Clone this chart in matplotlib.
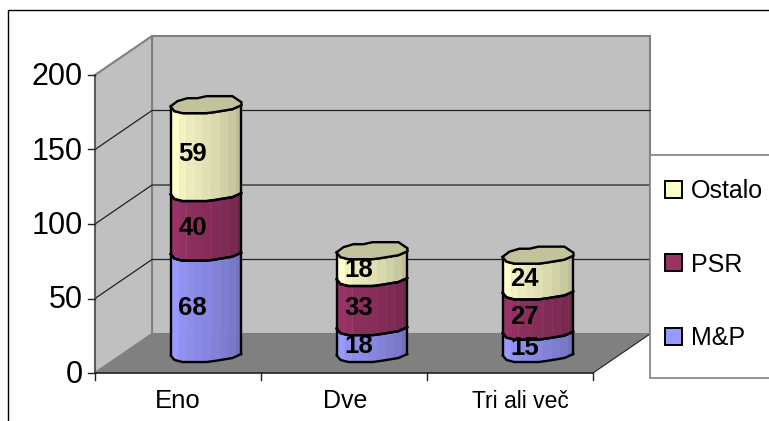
import matplotlib
matplotlib.use("Agg")
import matplotlib.pyplot as plt
import numpy as np
from matplotlib.patches import Patch, Polygon, Rectangle

plt.rcParams["font.family"] = ["Liberation Sans", "DejaVu Sans"]

categories = ["Eno", "Dve", "Tri ali več"]
series_names = ["M&P", "PSR", "Ostalo"]
mp_values = [68, 18, 15]
psr_values = [40, 33, 27]
ostalo_values = [59, 18, 24]
y_ticks = [0, 50, 100, 150, 200]

colors = ["#9999FF", "#993366", "#FFFFCC"]
edge_gray = "#808080"

# scale of the chart in pixels, the axes cover the whole figure
W, H = 769, 421
left_px, bottom_px = 95, 373
cat_px, val_px = 166, 1.49
depth_x = 57 / cat_px
depth_y = 39 / val_px

# rim of a cylinder, x in bar radii and y in rim half heights
rim = np.array([(-1.0, 0.21), (-0.81, -0.41), (-0.53, -0.76), (-0.25, -0.76),
                (0.0, -1.0), (0.72, -1.0), (0.97, -0.29), (0.97, 0.06),
                (0.72, 0.53), (0.22, 0.88), (0.0, 1.0), (-0.67, 1.0), (-0.89, 0.76)])
front_idx = [0, 12, 11, 10, 9, 8, 7]
facets = np.array([-1.0, -0.76, -0.55, -0.33, -0.11, 0.14, 0.39, 0.61, 0.83, 0.97])
shades = [1.0, 0.95, 0.92, 0.9, 0.88, 0.85, 0.82, 0.79, 0.74]
radius_x = 36 / cat_px
radius_y = 8.5 / val_px

# tick label sizes and nudges along the x axis
label_sizes = [18.5, 18, 16.5]
label_shift = [0, 1, 10]


def shade(color, factor):
    return tuple(c * factor for c in matplotlib.colors.to_rgb(color))


def front_arc(xc, yc, xs):
    pts = rim[front_idx]
    return xc + xs * radius_x, yc - np.interp(xs, pts[:, 0], pts[:, 1]) * radius_y


def draw_segment(ax, xc, y0, y1, color):
    for i in range(len(shades)):
        xs = facets[i:i + 2]
        x_a, y_a = front_arc(xc, y0, xs)
        x_b, y_b = front_arc(xc, y1, xs)
        verts = list(zip(x_a, y_a)) + list(zip(x_b[::-1], y_b[::-1]))
        face = shade(color, shades[i])
        ax.add_patch(Polygon(verts, fc=face, ec=face, lw=0.3, zorder=5))
    xs = rim[front_idx][:, 0]
    x_a, y_a = front_arc(xc, y0, xs)
    x_b, y_b = front_arc(xc, y1, xs)
    ax.plot(x_a, y_a, color="black", lw=1.7, zorder=6, solid_capstyle="round")
    ax.plot(x_b, y_b, color="black", lw=1.7, zorder=6, solid_capstyle="round")
    ax.plot([x_a[0], x_b[0]], [y_a[0], y_b[0]], color="black", lw=1.7, zorder=6)
    ax.plot([x_a[-1], x_b[-1]], [y_a[-1], y_b[-1]], color="black", lw=1.7, zorder=6)


fig = plt.figure(figsize=(W / 100, H / 100), dpi=100)
ax = fig.add_axes([0, 0, 1, 1])
ax.set_xlim(-left_px / cat_px, (W - left_px) / cat_px)
ax.set_ylim(-(H - bottom_px) / val_px, bottom_px / val_px)
ax.axis("off")

n = len(categories)
top = y_ticks[-1]

# walls and floor
ax.add_patch(Polygon([(depth_x, depth_y), (n + depth_x, depth_y), (n + depth_x, top + depth_y),
                      (depth_x, top + depth_y)], fc="#C0C0C0", ec=edge_gray, lw=1.5, zorder=1))
ax.add_patch(Polygon([(0, 0), (depth_x, depth_y), (depth_x, top + depth_y), (0, top)],
                     fc="#C0C0C0", ec=edge_gray, lw=1.5, zorder=1))
ax.add_patch(Polygon([(0, 0), (n, 0), (n + depth_x, depth_y), (depth_x, depth_y)],
                     fc=edge_gray, ec="none", zorder=1))

for v in y_ticks[1:-1]:
    ax.plot([0, depth_x, n + depth_x], [v, v + depth_y, v + depth_y], color="#222222", lw=0.9, zorder=2)

# axis lines and ticks
tick_x = 7 / cat_px
tick_y = 7 / val_px
ax.plot([0, 0], [0, top], color="#555555", lw=1.2, zorder=3)
ax.plot([0, n], [0, 0], color="#222222", lw=1.2, zorder=3)
ax.plot([n, n + depth_x], [0, depth_y], color="#222222", lw=0.8, zorder=3)
for v in y_ticks:
    ax.plot([-tick_x, 0], [v, v], color="#222222", lw=1, zorder=3)
    ax.text(-12 / cat_px, v - 2 / val_px, str(v), ha="right", va="center", fontsize=22, zorder=3)
for i in range(n + 1):
    ax.plot([i, i], [0, -tick_y], color="#222222", lw=1, zorder=3)
for i, name in enumerate(categories):
    ax.text(i + 0.5 + label_shift[i] / cat_px, -28.5 / val_px, name, ha="center", va="center",
            fontsize=label_sizes[i], zorder=3)

# stacked cylinders
for i in range(n):
    xc = i + 0.5 + depth_x / 2
    base = depth_y / 2
    bottom = 0
    for values, color in zip([mp_values, psr_values, ostalo_values], colors):
        v = values[i]
        draw_segment(ax, xc, base + bottom, base + bottom + v, color)
        ax.text(xc - 14 / cat_px, base + bottom + v / 2 - 5.5 / val_px, str(v), ha="center", va="center",
                fontsize=18.5, fontweight="bold", color="black", zorder=8)
        bottom += v
    y_top = base + bottom
    ax.add_patch(Polygon(np.column_stack([xc + rim[:, 0] * radius_x, y_top - rim[:, 1] * radius_y]),
                         fc=shade(colors[2], 0.76), ec="black", lw=1.7, zorder=7))

# legend box runs off the right edge of the figure
ax.add_patch(Rectangle((650 / W, 1 - 378 / H), 130 / W, 223 / H, transform=ax.transAxes,
                       fc="white", ec=edge_gray, lw=1.2, zorder=9))
handles = [Patch(fc=c, ec="black", lw=1.4) for c in colors[::-1]]
ax.legend(handles, series_names[::-1], loc="upper left", bbox_to_anchor=(665 / W, 1 - 179 / H),
          fontsize=18, frameon=False, borderpad=0, labelspacing=1.98, handlelength=0.68,
          handleheight=0.68, handletextpad=0.36, borderaxespad=0).set_zorder(10)

# outer frame, only the top and left sides fall inside the figure
ax.plot([8 / W, 8 / W, 1], [0, 1 - 10 / H, 1 - 10 / H], color="black", lw=1,
        transform=ax.transAxes, zorder=11, clip_on=False)

fig.savefig("out.png", dpi=100)
